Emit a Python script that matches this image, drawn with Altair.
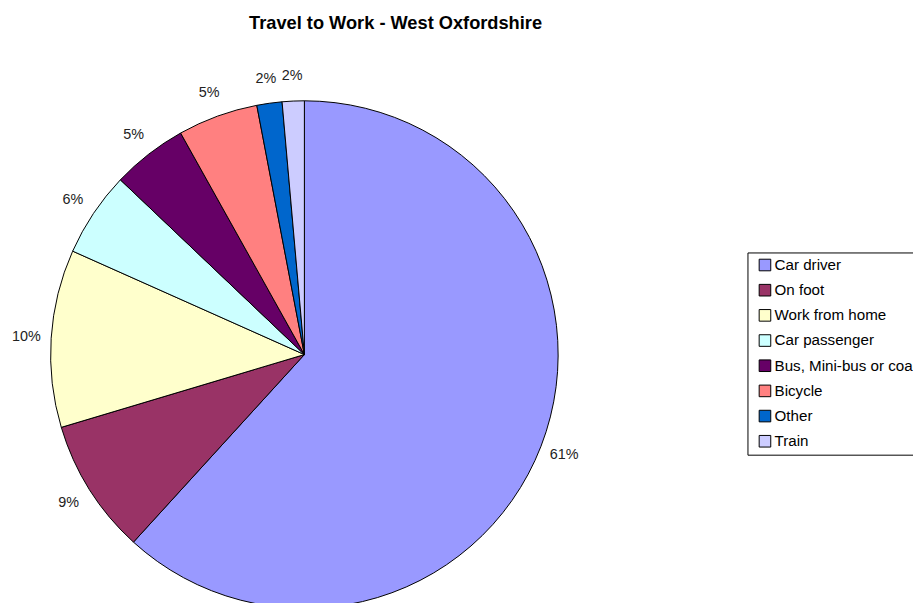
import altair as alt
import pandas as pd

categories = ["Car driver", "On foot", "Work from home", "Car passenger",
              "Bus, Mini-bus or coach", "Bicycle", "Other", "Train"]
shares = [61.7, 8.6, 11.3, 5.4, 4.8, 5.1, 1.6, 1.4]
labels = ["61%", "9%", "10%", "6%", "5%", "5%", "2%", "2%"]
colors = ["#9999FF", "#993366", "#FFFFCC", "#CCFFFF", "#660066", "#FF8080", "#0066CC", "#CCCCFF"]

df = pd.DataFrame({
    "mode": categories,
    "share": shares,
    "label": labels,
    "order": list(range(len(categories))),
})

FONT = "Liberation Sans"
CX, CY, R = 299, 347, 256

base = alt.Chart(df).encode(
    theta=alt.Theta("share:Q", stack=True),
    order=alt.Order("order:Q", sort="ascending"),
)

pie = base.mark_arc(stroke="black", strokeWidth=1, outerRadius=R).encode(
    x=alt.value(CX),
    y=alt.value(CY),
    color=alt.Color(
        "mode:N",
        scale=alt.Scale(domain=categories, range=colors),
        sort=categories,
        legend=alt.Legend(
            title=None,
            orient="none",
            legendX=746,
            legendY=244,
            strokeColor="black",
            padding=5,
            symbolType="square",
            symbolSize=137,
            symbolStrokeColor="black",
            symbolStrokeWidth=1,
            symbolOffset=5,
            labelFont=FONT,
            labelFontSize=15.3,
            labelColor="black",
            labelOffset=2,
            rowPadding=8.4,
            labelLimit=400,
        ),
    ),
)

text = base.mark_text(radius=281, font=FONT, fontSize=14.5, color="#222222").encode(
    x=alt.value(CX),
    y=alt.value(CY),
    text="label:N",
)

title_df = pd.DataFrame({"t": ["Travel to Work - West Oxfordshire"]})
title = alt.Chart(title_df).mark_text(
    font=FONT, fontSize=18.4, fontWeight="bold", color="black", baseline="alphabetic"
).encode(x=alt.value(391), y=alt.value(19), text="t:N")

chart = alt.layer(pie, text, title).properties(
    width=913, height=595,
    autosize=alt.AutoSizeParams(type="none"),
    padding=0,
).configure_view(stroke=None)

chart.save("out.html", embed_options={"renderer": "svg", "actions": False})
